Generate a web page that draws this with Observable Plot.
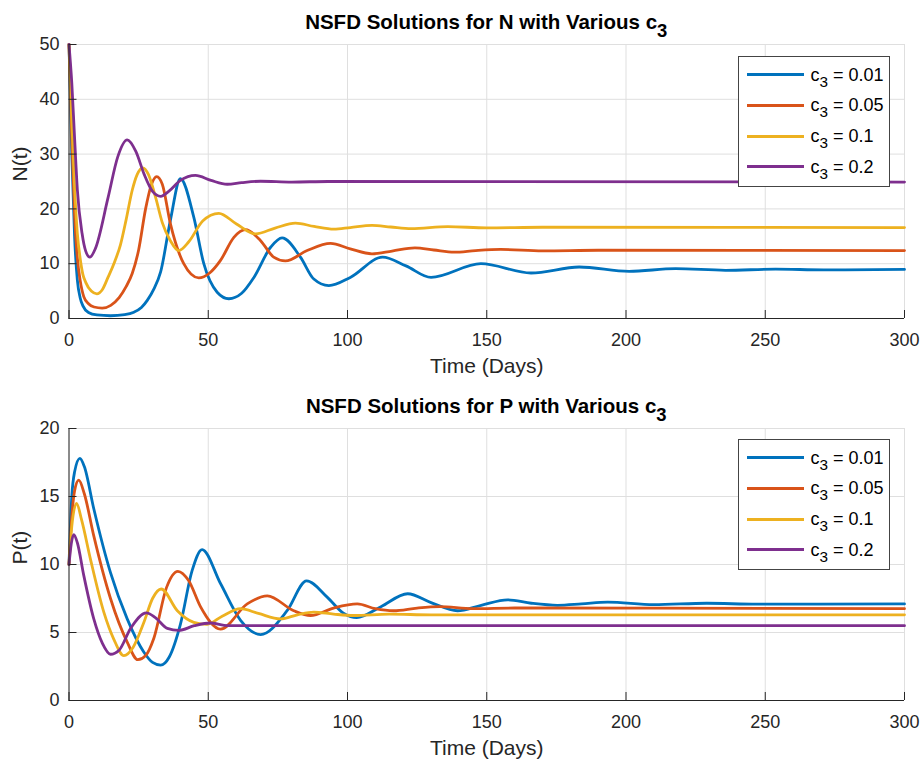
<!DOCTYPE html>
<html>
<head>
<meta charset="utf-8">
<script src="https://cdn.jsdelivr.net/npm/d3@7"></script>
<script src="https://cdn.jsdelivr.net/npm/@observablehq/plot@0.6"></script>
<style>
  body { margin: 0; background: #fff; }
  #chart { position: relative; width: 924px; height: 760px; font-family: "Liberation Sans", Arial, sans-serif; background: #fff; }
  #chart svg { position: absolute; left: 0; }
  .ttl { position: absolute; left: 68.5px; width: 835.5px; text-align: center; font-weight: bold; font-size: 20.5px; line-height: 24px; color: #000; white-space: nowrap; }
  .ttl sub { font-size: 90%; vertical-align: -0.45em; line-height: 0; }
  .leg { position: absolute; left: 738px; width: 150px; height: 129px; border: 1px solid #444; background: #fff; }
  .legline { position: absolute; height: 3px; width: 57px; }
  .legtxt { position: absolute; font-size: 18px; line-height: 20px; height: 20px; color: #000; white-space: nowrap; }
  .legtxt sub { font-size: 85%; vertical-align: -0.4em; line-height: 0; }
</style>
</head>
<body>
<div id="chart"></div>
<script>
// ---------- data ----------
const xTicks = [0, 50, 100, 150, 200, 250, 300];
const nTicks = [0, 10, 20, 30, 40, 50];
const pTicks = [0, 5, 10, 15, 20];
const c3Labels = ["0.01", "0.05", "0.1", "0.2"];
const c3Colors = ["#0072BD", "#D95319", "#EDB120", "#7E2F8E"];

// N(t), c3 = 0.01
const tN1 = [0,1,2,3,4,5,7,10,14.9,20,23.3,26,28.1,30.5,32.9,36.4,40,44.8,48.4,53.2,57.4,62,66.4,72.4,76.5,83.1,87.9,93.3,101,112.6,121,130,147.9,165.9,183.2,201.1,217.8,235.7,253.7,271,300];
const N1  = [50,30,15,7,3.8,2.3,1.1,0.65,0.5,0.7,1.15,2.0,3.3,5.4,8.5,17.9,25.5,18.5,10,4.8,3.6,4.6,7.5,13,14.7,11.2,7.2,6.0,7.5,11.2,9.6,7.5,10.0,8.3,9.4,8.6,9.1,8.8,9.0,8.88,8.95];
// N(t), c3 = 0.05
const tN2 = [0,1,2,3,4,5.3,7,9,11.9,15,18,20.5,22.7,25,27.5,29.5,31.5,33.5,36.4,41.2,46.6,50.5,54.4,59.2,63.4,68.8,73.5,77.7,85.5,93.9,101,108.8,116,124.2,131,138.3,146,155,170,190,300];
const N2  = [50,33,19,11,7,4,2.7,2.1,1.9,2.4,3.8,5.8,8.2,12.5,20,24.3,25.9,24.5,17.3,10,7.4,8.3,10.6,14.8,16.2,14.2,11.2,10.5,12.4,13.7,12.7,11.8,12.3,12.9,12.5,12.1,12.4,12.6,12.35,12.45,12.4];
// N(t), c3 = 0.1
const tN3 = [0,1,2,3,4,5,6,8,10,12,14,16.5,18.5,20.5,22.7,24.5,26.5,28.5,31.1,33.5,36.4,39.4,43,48,53.8,60,67,74,81.3,88,95.1,101,108.8,115.5,122.9,136,150,170,300];
const N3  = [50,36,24,15.5,11,8,6.6,5,4.5,5.3,7.5,10.5,13.5,18,23.4,26.3,27.5,26.3,22.1,17.5,14.2,12.4,14,17.8,19.2,17.3,15.45,16.5,17.4,16.8,16.3,16.6,17.0,16.7,16.4,16.75,16.55,16.65,16.6];
// N(t), c3 = 0.2
const tN4 = [0,1,2,3,4.7,6,7.5,9.5,14,17.5,20.9,24,27,30,32.9,36,40,45.4,51,56.8,62,68.8,80,93,300];
const N4  = [50,43,33,23.5,15.5,12.3,11.2,12.8,22,29.5,32.6,30.5,26.3,23.2,22.3,23.3,25.2,26.1,25.2,24.5,24.8,25.05,24.9,25.0,24.9];

// P(t), c3 = 0.01
const tP1 = [0,1,2,3.9,5.5,8.9,14.9,20.9,26.9,30,32.9,36,40,44.2,47.8,54.4,61.6,68.8,78.3,85.3,92.7,98.7,103.3,112,121.6,130,139.5,148,157.5,166,175.4,184,193.4,210,229,247,300];
const P1  = [10,15,16.8,17.8,17.2,14.1,9.4,6.0,3.55,2.8,2.6,3.2,5.6,9.55,11.1,8.6,5.9,4.85,6.6,8.8,7.6,6.4,6.1,6.9,7.85,7.2,6.6,7.0,7.4,7.15,7.0,7.1,7.23,7.05,7.15,7.08,7.1];
// P(t), c3 = 0.05
const tP2 = [0,1,2,3.5,5.5,8.9,14.9,20.9,24.7,27.5,30.5,35,39.1,43,47.2,54.4,64,71.2,80.7,86.7,95,103.5,110,116.5,125,133.1,145,160,300];
const P2  = [10,13.5,15.4,16.2,15.2,12.1,7.5,4.3,3.0,3.3,4.6,8.3,9.5,8.8,6.9,5.25,7.1,7.7,6.6,6.25,6.8,7.1,6.75,6.6,6.8,6.9,6.75,6.8,6.75];
// P(t), c3 = 0.1
const tP3 = [0,1,2.7,4.5,7.7,12.5,16.1,19.7,23,26.9,30,33.1,38.9,44.8,49.6,55,61.6,68,76,82,87.9,95,102.3,115,130,300];
const P3  = [10,12.8,14.5,13.3,10.4,6.5,4.5,3.3,3.9,5.75,7.5,8.2,6.6,5.75,5.6,6.2,6.75,6.4,6.0,6.3,6.5,6.35,6.25,6.35,6.3,6.3];
// P(t), c3 = 0.2
const tP4 = [0,0.8,1.7,3,5.3,8.9,12,14.9,18,22.1,27.8,31,35.3,39.4,45,50.8,57,65,300];
const P4  = [10,11.5,12.2,11.6,9.2,6.0,4.2,3.4,3.7,5.3,6.45,6.1,5.3,5.15,5.5,5.7,5.5,5.5,5.5];

const nSeries = [[tN1, N1], [tN2, N2], [tN3, N3], [tN4, N4]];
const pSeries = [[tP1, P1], [tP2, P2], [tP3, P3], [tP4, P4]];

// ---------- drawing ----------
const chart = document.getElementById("chart");
const axisColor = "#262626";
const gridColor = "#dfdfdf";

function rows(t, v) { return t.map((d, i) => ({t: d, v: v[i]})); }

function panel({series, yDomain, yTicks, yLabel, marginTop, marginBottom}) {
  const H = 380;
  return Plot.plot({
    width: 924, height: H,
    marginTop, marginBottom, marginLeft: 68.5, marginRight: 20,
    x: {domain: [0, 300], label: null},
    y: {domain: yDomain, label: null},
    style: {fontFamily: '"Liberation Sans", Arial, sans-serif', fontSize: "18px", color: axisColor, background: "transparent", overflow: "visible"},
    marks: [
      Plot.gridX(xTicks, {stroke: gridColor, strokeOpacity: 1, strokeWidth: 1}),
      Plot.gridY(yTicks, {stroke: gridColor, strokeOpacity: 1, strokeWidth: 1}),
      ...series.map(([t, v], i) => Plot.line(rows(t, v), {x: "t", y: "v", stroke: c3Colors[i], strokeWidth: 2.8, curve: "monotone-x"})),
      Plot.ruleX([0], {stroke: axisColor, strokeWidth: 1}),
      Plot.ruleY([yDomain[0]], {stroke: axisColor, strokeWidth: 1}),
      Plot.axisX({ticks: xTicks, tickSize: 8, dy: -8, tickFormat: () => "", stroke: axisColor, label: null}),
      Plot.axisY({ticks: yTicks, tickSize: 8, dx: 8, tickFormat: () => "", stroke: axisColor, label: null}),
      Plot.axisX({ticks: xTicks, tickSize: 0, tickPadding: 15, fill: axisColor, label: null, fontSize: 18}),
      Plot.axisY({ticks: yTicks, tickSize: 0, tickPadding: 9.5, fill: axisColor, label: null, fontSize: 18}),
      Plot.text(["Time (Days)"], {frameAnchor: "bottom", dy: 54, fontSize: 21, fill: axisColor}),
      Plot.text([yLabel], {frameAnchor: "left", dx: -48.5, rotate: -90, fontSize: 21, fill: axisColor})
    ]
  });
}

function addTitle(letter, topPx) {
  const d = document.createElement("div");
  d.className = "ttl";
  d.style.top = topPx + "px";
  d.innerHTML = "NSFD Solutions for " + letter + " with Various c<sub>3</sub>";
  chart.appendChild(d);
}

function addLegend(topPx) {
  const box = document.createElement("div");
  box.className = "leg";
  box.style.top = topPx + "px";
  chart.appendChild(box);
  c3Labels.forEach((lab, i) => {
    const cy = topPx + 18.5 + 30.8 * i;
    const ln = document.createElement("div");
    ln.className = "legline";
    ln.style.left = "746.5px";
    ln.style.top = (cy - 1.5) + "px";
    ln.style.background = c3Colors[i];
    chart.appendChild(ln);
    const tx = document.createElement("div");
    tx.className = "legtxt";
    tx.style.left = "810.5px";
    tx.style.top = (cy - 10) + "px";
    tx.innerHTML = "c<sub>3</sub> = " + lab;
    chart.appendChild(tx);
  });
}

const topPanel = panel({series: nSeries, yDomain: [0, 50], yTicks: nTicks, yLabel: "N(t)", marginTop: 44, marginBottom: 62});
topPanel.style.top = "0px";
chart.appendChild(topPanel);

const bottomPanel = panel({series: pSeries, yDomain: [0, 20], yTicks: pTicks, yLabel: "P(t)", marginTop: 48, marginBottom: 60});
bottomPanel.style.top = "380px";
chart.appendChild(bottomPanel);

addTitle("N", 10);
addTitle("P", 394);
addLegend(56);
addLegend(439);
</script>
</body>
</html>
